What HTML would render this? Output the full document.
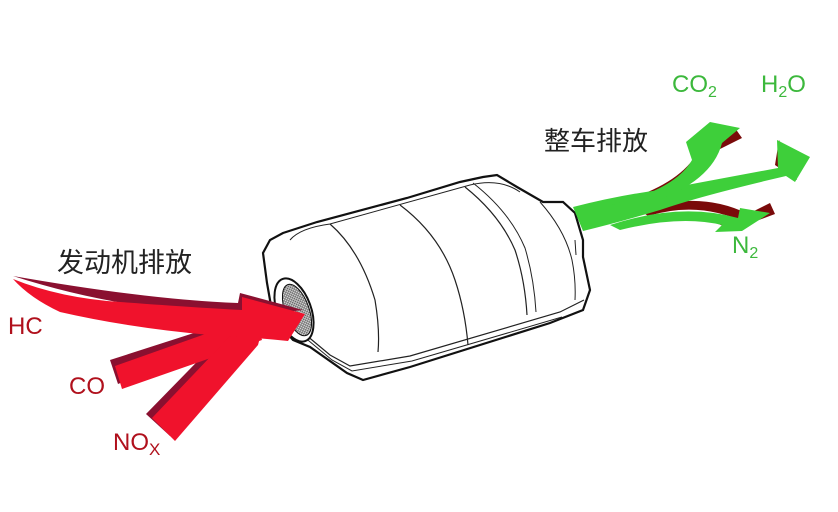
<!DOCTYPE html>
<html><head><meta charset="utf-8"><style>
html,body{margin:0;padding:0;background:#fff;}
svg{display:block;}
text{font-family:"Liberation Sans","Noto Sans CJK SC",sans-serif;}
</style></head><body>
<svg width="838" height="512" viewBox="0 0 838 512" xmlns="http://www.w3.org/2000/svg">
<defs>
<pattern id="mesh" width="3" height="3" patternUnits="userSpaceOnUse">
<rect width="3" height="3" fill="#ddd"/><path d="M0 0L3 3M3 0L0 3" stroke="#555" stroke-width="0.6"/>
</pattern>
</defs>
<!-- converter -->
<path d="M283,233 L317,222 L407,198 L460,182 L483,177 L497,175 L517,187 L543,202 L563,202 L575,213 L583,240 L583,257 L590,290 L583,310 L550,323 L410,367 L363,380 L347,373 L310,347 L293,340 L273,317 L267,283 L263,253 L270,240 Z" fill="#fff" stroke="#111" stroke-width="2.2"/>
<path d="M300,330 L330,355 L350,366 L410,356 L560,312 L584,300" fill="none" stroke="#222" stroke-width="1.2"/>
<path d="M303,336 L332,360 L352,371 L412,361 L562,317" fill="none" stroke="#222" stroke-width="1"/>
<path d="M290,240 Q300,228 330,224 L470,185 Q500,178 520,192" fill="none" stroke="#222" stroke-width="1"/>
<path d="M330,224 Q360,250 375,300 Q380,330 378,352" fill="none" stroke="#222" stroke-width="1.2"/>
<path d="M400,205 Q440,235 455,280 Q465,310 468,345" fill="none" stroke="#222" stroke-width="1.2"/>
<path d="M465,187 Q500,215 515,250 Q525,280 527,315" fill="none" stroke="#222" stroke-width="1.2"/>
<path d="M473,183 Q510,212 525,248 Q534,278 536,312" fill="none" stroke="#222" stroke-width="1"/>
<path d="M540,202 Q565,230 572,260 Q576,280 575,300" fill="none" stroke="#222" stroke-width="1"/>
<path d="M575,240 L576,255" stroke="#222" stroke-width="1"/>
<ellipse cx="294" cy="310" rx="17" ry="33" transform="rotate(-20 294 310)" fill="#fff" stroke="#111" stroke-width="2"/>
<ellipse cx="297" cy="310" rx="12" ry="27" transform="rotate(-20 297 310)" fill="url(#mesh)" stroke="#111" stroke-width="1"/>
<!-- red shadows -->
<g fill="#8a1030">
<path d="M110,360 L225,323 L240,333 L118,384 Z"/>
<path d="M146,414 L228,330 L245,340 L170,436 Z"/>
<path d="M13,276 Q150,300 238,303 L240,293 L303,310 L285,312 Q150,320 13,276 Z"/>
</g>
<!-- red arrows -->
<g fill="#f0122c">
<path d="M115,366 L225,327 L258,326 L262,340 L122,389 Z"/>
<path d="M152,418 L232,334 L262,330 L258,345 L175,441 Z"/>
<path d="M13,279 Q60,298 120,302 Q200,308 242,310 L242,297 L305,314 L288,341 Q250,337 210,335 Q130,328 60,312 Q30,298 13,279 Z"/>
</g>
<!-- green shadows -->
<g fill="#7a0a0a">
<path d="M632,198 Q685,180 700,148 L735,128 L742,138 L714,152 Q705,185 640,204 Z"/>
<path d="M640,210 Q700,190 748,214 L770,203 L775,214 L748,224 Q700,200 648,216 Z"/>
<path d="M775,165 L779,140 L797,180 Z"/>
<path d="M713,222 L728,216 L734,230 Z"/>
</g>
<!-- green arrows -->
<g fill="#3ecf3a">
<path d="M573,207 Q620,195 660,190 L778,168 L777,140 L810,157 L795,182 L786,176 Q700,196 660,210 Q620,222 583,231 Z"/>
<path d="M610,205 Q675,190 692,160 L686,142 L710,122 L740,128 L722,143 Q712,182 650,203 Z"/>
<path d="M610,225 Q680,202 738,218 L740,208 L770,213 L742,231 L715,232 L722,225 Q680,215 620,230 Z"/>
</g>
<!-- labels -->
<text x="57" y="272" font-size="27" fill="#222">发动机排放</text>
<text x="544" y="150" font-size="26" fill="#222">整车排放</text>
<g fill="#b0101c" font-size="24">
<text x="8" y="334">HC</text>
<text x="69" y="394">CO</text>
<text x="113" y="450">NO<tspan font-size="17" dy="5">X</tspan></text>
</g>
<g fill="#3cb83c" font-size="24">
<text x="672" y="92">CO<tspan font-size="16" dy="5">2</tspan></text>
<text x="761" y="92">H<tspan font-size="16" dy="5">2</tspan><tspan dy="-5">O</tspan></text>
<text x="732" y="253">N<tspan font-size="16" dy="5">2</tspan></text>
</g>
</svg>
</body></html>
